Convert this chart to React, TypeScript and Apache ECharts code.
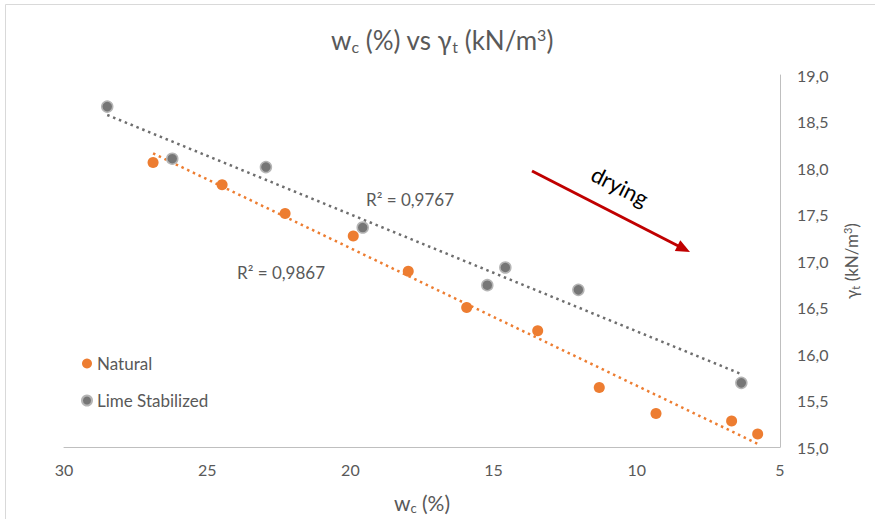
import React, { useEffect, useRef } from "react";
import * as echarts from "echarts";

// Moisture content w_c (%) and unit weight γt (kN/m³)
const naturalWc = [26.89, 24.48, 22.28, 19.9, 17.98, 15.94, 13.46, 11.31, 9.33, 6.69, 5.78];
const naturalGamma = [18.06, 17.82, 17.51, 17.27, 16.89, 16.5, 16.25, 15.64, 15.36, 15.28, 15.14];

const limeWc = [28.49, 26.22, 22.95, 19.57, 15.22, 14.59, 12.04, 6.35];
const limeGamma = [18.66, 18.1, 18.01, 17.36, 16.74, 16.93, 16.69, 15.69];

const seriesNames = ["Natural", "Lime Stabilized"];
const r2Labels = ["R² = 0,9867", "R² = 0,9767"];

const xTicks = { min: 5, max: 30, interval: 5 };
const yTicks = { min: 15, max: 19, interval: 0.5 };

const ORANGE = "#ED7D31";
const GREY = "#767676";
const TEXT = "#595959";
const FONT = "Lato, 'Open Sans', sans-serif";

function fit(xs: number[], ys: number[]) {
  const n = xs.length;
  const mx = xs.reduce((a, b) => a + b, 0) / n;
  const my = ys.reduce((a, b) => a + b, 0) / n;
  let sxy = 0,
    sxx = 0;
  for (let i = 0; i < n; i++) {
    sxy += (xs[i] - mx) * (ys[i] - my);
    sxx += (xs[i] - mx) * (xs[i] - mx);
  }
  const b = sxy / sxx;
  const a = my - b * mx;
  const x0 = Math.min(...xs);
  const x1 = Math.max(...xs);
  return [
    [x1, a + b * x1],
    [x0, a + b * x0],
  ];
}

export default function App() {
  const ref = useRef<HTMLDivElement>(null);

  useEffect(() => {
    document.body.style.margin = "0";
    document.body.style.overflow = "hidden";
    if (!ref.current) return;
    const chart = echarts.init(ref.current, undefined, { renderer: "svg" });

    const natPts = naturalWc.map((x, i) => [x, naturalGamma[i]]);
    const limePts = limeWc.map((x, i) => [x, limeGamma[i]]);

    // arrow geometry (annotation)
    const sx = 532, sy = 171, tx = 690, ty = 252;
    const len = Math.hypot(tx - sx, ty - sy);
    const dx = (tx - sx) / len, dy = (ty - sy) / len;
    const hl = 14, hw = 6;
    const bx = tx - hl * dx, by = ty - hl * dy;

    chart.setOption({
      animation: false,
      backgroundColor: "#ffffff",
      textStyle: { fontFamily: FONT },
      title: {
        text: "w{sub|c} (%) vs γ{sub|t} (kN/m{sup|3})",
        left: 326,
        top: 21,
        textStyle: {
          fontFamily: FONT,
          fontSize: 26,
          fontWeight: "normal",
          color: TEXT,
          rich: {
            sub: { fontSize: 16, color: TEXT, verticalAlign: "bottom", padding: [12, 0, 0, 0], fontFamily: FONT },
            sup: { fontSize: 16, color: TEXT, verticalAlign: "top", padding: [0, 0, 10, 0], fontFamily: FONT },
          },
        },
      },
      grid: { left: 64, right: 95, top: 75, bottom: 67, containLabel: false },
      legend: {
        data: seriesNames,
        orient: "vertical",
        left: 76,
        top: 350,
        icon: "circle",
        itemWidth: 10,
        itemHeight: 10,
        itemGap: 20,
        textStyle: { fontFamily: FONT, fontSize: 17, color: TEXT },
      },
      xAxis: {
        type: "value",
        inverse: true,
        min: xTicks.min,
        max: xTicks.max,
        interval: xTicks.interval,
        position: "bottom",
        axisLine: { show: true, lineStyle: { color: "#BFBFBF", width: 1 } },
        axisTick: { show: false },
        splitLine: { show: false },
        axisLabel: { color: TEXT, fontSize: 16, margin: 14, fontFamily: FONT },
        name: "w{sub|c} (%)",
        nameLocation: "middle",
        nameGap: 44,
        nameTextStyle: {
          color: TEXT,
          fontSize: 21,
          fontFamily: FONT,
          rich: { sub: { fontSize: 13, color: TEXT, verticalAlign: "bottom", padding: [10, 0, 0, 0], fontFamily: FONT } },
        },
      },
      yAxis: {
        type: "value",
        min: yTicks.min,
        max: yTicks.max,
        interval: yTicks.interval,
        position: "right",
        axisLine: { show: true, lineStyle: { color: "#BFBFBF", width: 1 } },
        axisTick: { show: false },
        splitLine: { show: false },
        axisLabel: {
          color: TEXT,
          fontSize: 16,
          margin: 17,
          fontFamily: FONT,
          formatter: (v: number) => v.toFixed(1).replace(".", ","),
        },
        name: "γ{sub|t} (kN/m{sup|3})",
        nameLocation: "middle",
        nameGap: 62,
        nameRotate: 90,
        nameTextStyle: {
          color: TEXT,
          fontSize: 17,
          fontFamily: FONT,
          rich: {
            sub: { fontSize: 11, color: TEXT, verticalAlign: "bottom", padding: [8, 0, 0, 0], fontFamily: FONT },
            sup: { fontSize: 11, color: TEXT, verticalAlign: "top", padding: [0, 0, 7, 0], fontFamily: FONT },
          },
        },
      },
      series: [
        {
          name: "trend-natural",
          type: "line",
          data: fit(naturalWc, naturalGamma),
          symbol: "none",
          lineStyle: { color: ORANGE, width: 2.5, type: [2.5, 3.8] },
          silent: true,
          z: 1,
        },
        {
          name: "trend-lime",
          type: "line",
          data: fit(limeWc, limeGamma),
          symbol: "none",
          lineStyle: { color: "#6E6E6E", width: 2.5, type: [2.5, 3.8] },
          silent: true,
          z: 1,
        },
        {
          name: seriesNames[0],
          type: "scatter",
          data: natPts,
          symbol: "circle",
          symbolSize: 11,
          itemStyle: { color: ORANGE, opacity: 1 },
          z: 3,
        },
        {
          name: seriesNames[1],
          type: "scatter",
          data: limePts,
          symbol: "circle",
          symbolSize: 11,
          itemStyle: { color: GREY, borderColor: "#B5B5B5", borderWidth: 1.5, opacity: 1 },
          z: 3,
        },
      ],
      graphic: [
        {
          type: "line",
          shape: { x1: 5.5, y1: 4.5, x2: 875, y2: 4.5 },
          style: { stroke: "#D9D9D9", lineWidth: 1 },
          silent: true,
        },
        {
          type: "line",
          shape: { x1: 5.5, y1: 4.5, x2: 5.5, y2: 519 },
          style: { stroke: "#D9D9D9", lineWidth: 1 },
          silent: true,
        },
        {
          type: "text",
          x: 237,
          y: 272,
          style: { text: r2Labels[0], fill: TEXT, fontSize: 17, fontFamily: FONT, verticalAlign: "middle" },
        },
        {
          type: "text",
          x: 366,
          y: 199,
          style: { text: r2Labels[1], fill: TEXT, fontSize: 17, fontFamily: FONT, verticalAlign: "middle" },
        },
        {
          type: "line",
          shape: { x1: sx, y1: sy, x2: bx + 2 * dx, y2: by + 2 * dy },
          style: { stroke: "#C00000", lineWidth: 3 },
        },
        {
          type: "polygon",
          shape: {
            points: [
              [tx, ty],
              [bx - hw * dy, by + hw * dx],
              [bx + hw * dy, by - hw * dx],
            ],
          },
          style: { fill: "#C00000" },
        },
        {
          type: "text",
          x: 620,
          y: 186,
          rotation: -Math.atan2(ty - sy, tx - sx),
          style: {
            text: "drying",
            fill: "#000000",
            fontSize: 22,
            fontFamily: FONT,
            align: "center",
            verticalAlign: "middle",
          },
        },
      ],
    });

    return () => chart.dispose();
  }, []);

  return (
    <div
      ref={ref}
      style={{ position: "absolute", left: 0, top: 0, width: 875, height: 519, overflow: "hidden", background: "#fff" }}
    />
  );
}
